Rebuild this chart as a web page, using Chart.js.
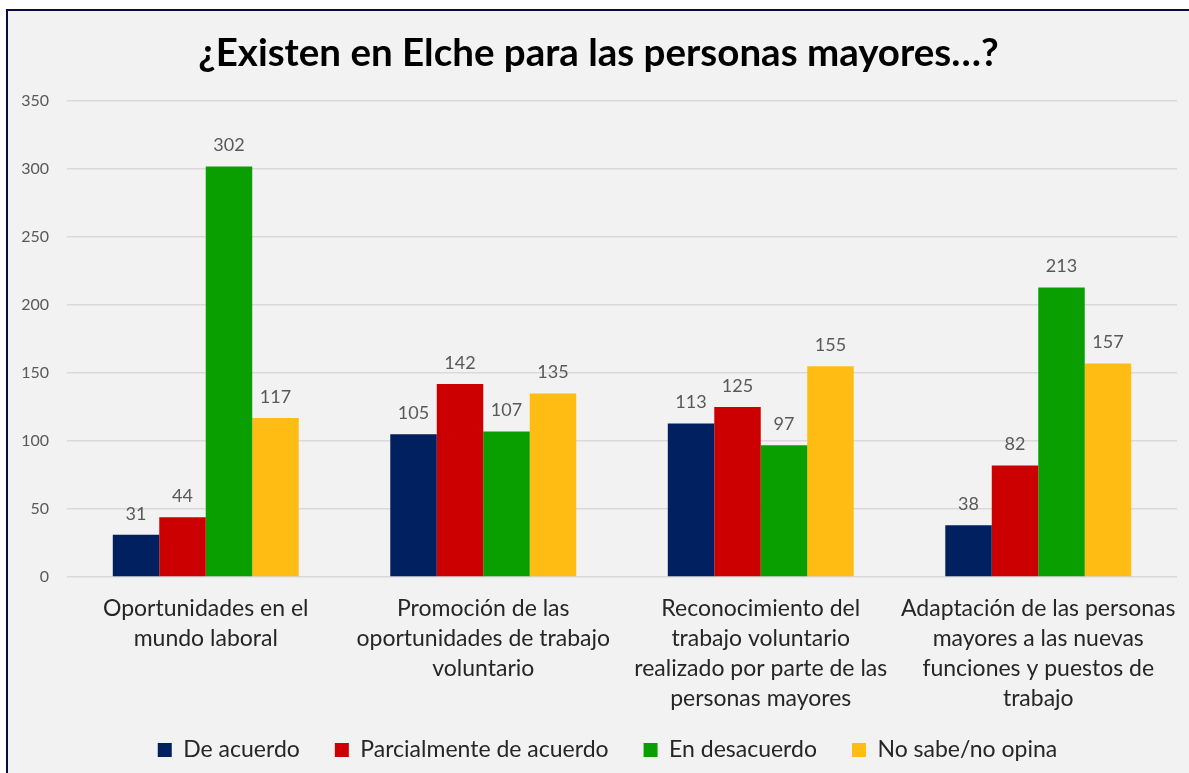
<!DOCTYPE html>
<html>
<head>
<meta charset="utf-8">
<script src="https://cdn.jsdelivr.net/npm/chart.js@4.4.1/dist/chart.umd.min.js"></script>
<style>
  html, body { margin: 0; padding: 0; background: #ffffff; overflow: hidden; }
  .frame {
    position: absolute; left: 6px; top: 9px; right: -40px; bottom: -40px;
    border-left: 2px solid #0b0b3f; border-top: 2px solid #0b0b3f;
    background: #f2f2f2;
  }
  .wrap { position: absolute; left: 0; top: 0; width: 1189px; height: 773px; }
</style>
</head>
<body>
<div class="frame"></div>
<div class="wrap"><canvas id="chart"></canvas></div>
<script>
// --- data ---
const categories = [
    ['Oportunidades en el', 'mundo laboral'],
    ['Promoción de las', 'oportunidades de trabajo', 'voluntario'],
    ['Reconocimiento del', 'trabajo voluntario', 'realizado por parte de las', 'personas mayores'],
    ['Adaptación de las personas', 'mayores a las nuevas', 'funciones y puestos de', 'trabajo']
];
const seriesNames = ['De acuerdo', 'Parcialmente de acuerdo', 'En desacuerdo', 'No sabe/no opina'];
const deAcuerdo = [31, 105, 113, 38];
const parcialmente = [44, 142, 125, 82];
const enDesacuerdo = [302, 107, 97, 213];
const noSabe = [117, 135, 155, 157];
const yTicks = [0, 50, 100, 150, 200, 250, 300, 350];
const colors = ['#002060', '#cc0000', '#0a9f00', '#ffbc12'];

const FONT = 'Lato';

// value labels above each bar
const barValueLabels = {
    id: 'barValueLabels',
    afterDatasetsDraw(chart) {
        const ctx = chart.ctx;
        ctx.save();
        ctx.font = '18px ' + FONT;
        ctx.fillStyle = '#595959';
        ctx.textAlign = 'center';
        ctx.textBaseline = 'middle';
        chart.data.datasets.forEach((ds, i) => {
            chart.getDatasetMeta(i).data.forEach((bar, j) => {
                ctx.fillText(ds.data[j], bar.x, bar.y - 21);
            });
        });
        ctx.restore();
    }
};

// move the legend a bit up and right, closer to where the original sits
const legendNudge = {
    id: 'legendNudge',
    afterLayout(chart) {
        const lg = chart.legend;
        lg.top -= 10.5;
        lg.bottom -= 10.5;
        lg.left += 9;
        lg.right += 9;
    }
};

const values = [deAcuerdo, parcialmente, enDesacuerdo, noSabe];

new Chart(document.getElementById('chart'), {
    type: 'bar',
    data: {
        labels: categories,
        datasets: seriesNames.map((name, i) => ({
            label: name,
            data: values[i],
            backgroundColor: colors[i],
            borderWidth: 0,
            barPercentage: 1,
            categoryPercentage: 0.67
        }))
    },
    options: {
        responsive: true,
        maintainAspectRatio: false,
        animation: false,
        layout: { padding: { left: 20, right: 12, top: 0, bottom: -9 } },
        plugins: {
            title: {
                display: true,
                text: '¿Existen en Elche para las personas mayores…?',
                color: '#000000',
                font: { family: FONT, size: 38.5, weight: 'bold', lineHeight: 1.2 },
                padding: { top: 30, bottom: 25 }
            },
            legend: {
                position: 'bottom',
                labels: {
                    color: '#262626',
                    font: { family: FONT, size: 23 },
                    boxWidth: 14,
                    boxHeight: 14,
                    padding: 35
                }
            },
            tooltip: { enabled: false }
        },
        scales: {
            x: {
                grid: { display: false, drawTicks: false },
                border: { display: false },
                ticks: {
                    color: '#262626',
                    font: { family: FONT, size: 23, lineHeight: 30 / 23 },
                    padding: 17,
                    maxRotation: 0,
                    autoSkip: false
                },
                afterFit: (axis) => {
                    axis.height = 137;
                    // long last label shouldn't squeeze the plot area
                    axis.paddingLeft = 0;
                    axis.paddingRight = 0;
                }
            },
            y: {
                min: 0,
                max: 350,
                afterBuildTicks: (axis) => { axis.ticks = yTicks.map(v => ({ value: v })); },
                grid: { color: '#d9d9d9', lineWidth: 1.5, drawTicks: false },
                border: { display: false },
                ticks: {
                    color: '#595959',
                    font: { family: FONT, size: 16 },
                    padding: 18
                },
                afterFit: (axis) => { axis.width = 47; }
            }
        }
    },
    plugins: [barValueLabels, legendNudge]
});
</script>
</body>
</html>
